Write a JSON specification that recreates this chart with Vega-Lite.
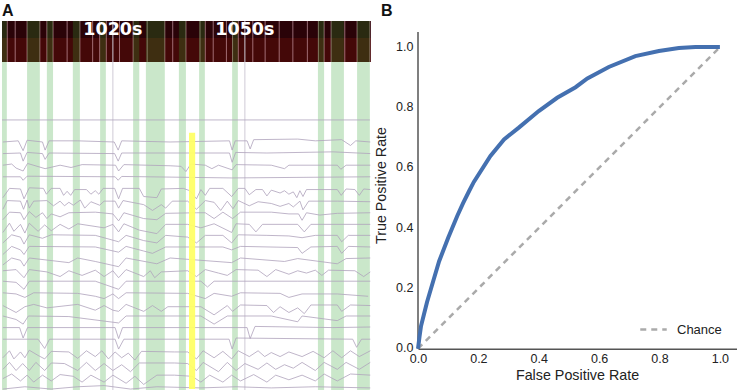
{"$schema":"https://vega.github.io/schema/vega-lite/v6.json","padding":{"left":2,"top":2,"right":0,"bottom":0},"autosize":{"type":"pad"},"spacing":3,"background":"white","config":{"view":{"stroke":null},"font":"Liberation Sans"},
"hconcat":[
{"width":369,"height":369,"title":{"text":"A","anchor":"start","frame":"group","fontSize":16,"font":"Liberation Sans","fontWeight":"bold","color":"#111","offset":2},
"layer":[
{"data":{"values":[{"t0":994.8,"t1":1078.66,"y0":-9.43,"y1":-7.97,"k":"upper"},{"t0":994.8,"t1":1078.66,"y0":-7.97,"y1":-5.9,"k":"lower"}]},"mark":{"type":"rect"},"encoding":{"x":{"field":"t0","type":"quantitative","scale":{"domain":[994.8,1078.66],"nice":false,"zero":false},"axis":null},"x2":{"field":"t1"},"y":{"field":"y0","type":"quantitative","scale":{"domain":[-9.43,22.38],"nice":false,"zero":false,"reverse":true},"axis":null},"y2":{"field":"y1"},"color":{"field":"k","type":"nominal","scale":{"domain":["upper","lower"],"range":["#2a0308","#440808"]},"legend":null}}},
{"data":{"values":[{"t":996},{"t":997.8},{"t":1000.5},{"t":1003.4},{"t":1005},{"t":1006.4},{"t":1009.6},{"t":1012.5},{"t":1015.4},{"t":1017},{"t":1018.5},{"t":1021.5},{"t":1024.6},{"t":1027.8},{"t":1031.8},{"t":1033.6},{"t":1036.6},{"t":1039.8},{"t":1041},{"t":1042.8},{"t":1045.8},{"t":1047.2},{"t":1048.5},{"t":1051.8},{"t":1054.6},{"t":1057.8},{"t":1060.9},{"t":1064.2},{"t":1066.7},{"t":1068},{"t":1069.6},{"t":1072.7},{"t":1075.5},{"t":1078.4}]},"transform":[{"calculate":"-9.43","as":"a"},{"calculate":"-5.9","as":"b"}],"mark":{"type":"rule","color":"#e0b0bc","strokeWidth":1,"opacity":0.6},"encoding":{"x":{"field":"t","type":"quantitative","scale":{"domain":[994.8,1078.66],"nice":false,"zero":false}},"y":{"field":"a","type":"quantitative","scale":{"domain":[-9.43,22.38],"nice":false,"zero":false,"reverse":true}},"y2":{"field":"b"}}},
{"data":{"values":[{"t0":994.8,"t1":995.9},{"t0":1000.5,"t1":1003.4},{"t0":1005,"t1":1006.4},{"t0":1010.9,"t1":1012.5},{"t0":1017.1,"t1":1018.4},{"t0":1024.6,"t1":1026},{"t0":1027.5,"t1":1031.8},{"t0":1035,"t1":1036.6},{"t0":1039.6,"t1":1040.9},{"t0":1047.1,"t1":1048.4},{"t0":1066.6,"t1":1068},{"t0":1069.6,"t1":1072.5},{"t0":1075.5,"t1":1078.4}]},"transform":[{"calculate":"-9.43","as":"a"},{"calculate":"22.38","as":"b"}],"mark":{"type":"rect","color":"#2ca02c","opacity":0.25},"encoding":{"x":{"field":"t0","type":"quantitative","scale":{"domain":[994.8,1078.66],"nice":false,"zero":false}},"x2":{"field":"t1"},"y":{"field":"a","type":"quantitative","scale":{"domain":[-9.43,22.38],"nice":false,"zero":false,"reverse":true}},"y2":{"field":"b"}}},
{"data":{"values":[{"t":1020},{"t":1050}]},"transform":[{"calculate":"-9.43","as":"a"},{"calculate":"22.38","as":"b"}],"mark":{"type":"rule","color":"#cfcad6","strokeWidth":1},"encoding":{"x":{"field":"t","type":"quantitative","scale":{"domain":[994.8,1078.66],"nice":false,"zero":false}},"y":{"field":"a","type":"quantitative","scale":{"domain":[-9.43,22.38],"nice":false,"zero":false,"reverse":true}},"y2":{"field":"b"}}},
{"data":{"values":[{"t":994.8,"c":0,"v":-0.9},{"t":1078.4,"c":0,"v":-0.9},
{"t":995,"c":1,"v":1},{"t":998.5,"c":1,"v":0.9},{"t":999.6,"c":1,"v":1.75},{"t":1000.5,"c":1,"v":0.85},{"t":1004,"c":1,"v":1},{"t":1004.6,"c":1,"v":1.7},{"t":1005.5,"c":1,"v":0.9},{"t":1012,"c":1,"v":0.9},{"t":1020.3,"c":1,"v":1},{"t":1021.2,"c":1,"v":1.7},{"t":1022,"c":1,"v":0.9},{"t":1033,"c":1,"v":1},{"t":1046.5,"c":1,"v":0.9},{"t":1047.1,"c":1,"v":1.7},{"t":1047.8,"c":1,"v":0.9},{"t":1050.5,"c":1,"v":0.9},{"t":1051.2,"c":1,"v":1.6},{"t":1052,"c":1,"v":0.8},{"t":1062,"c":1,"v":0.75},{"t":1066,"c":1,"v":0.9},{"t":1072,"c":1,"v":0.8},{"t":1074,"c":1,"v":1.3},{"t":1075.2,"c":1,"v":0.9},{"t":1078.5,"c":1,"v":1},
{"t":995,"c":2,"v":2},{"t":999,"c":2,"v":1.95},{"t":999.6,"c":2,"v":2.65},{"t":1000.5,"c":2,"v":1.9},{"t":1004,"c":2,"v":2},{"t":1004.6,"c":2,"v":2.5},{"t":1005.5,"c":2,"v":1.95},{"t":1020.4,"c":2,"v":2},{"t":1021.2,"c":2,"v":2.65},{"t":1022,"c":2,"v":1.95},{"t":1046.5,"c":2,"v":1.95},{"t":1047.1,"c":2,"v":2.75},{"t":1047.9,"c":2,"v":1.9},{"t":1055,"c":2,"v":1.95},{"t":1070,"c":2,"v":1.85},{"t":1078.5,"c":2,"v":2},
{"t":995,"c":3,"v":3},{"t":997,"c":3,"v":2.9},{"t":998,"c":3,"v":3.25},{"t":999.6,"c":3,"v":3.5},{"t":1000.6,"c":3,"v":2.85},{"t":1004.6,"c":3,"v":3.3},{"t":1008,"c":3,"v":3},{"t":1010.5,"c":3,"v":3.2},{"t":1013,"c":3,"v":2.95},{"t":1020.6,"c":3,"v":3},{"t":1021.3,"c":3,"v":3.5},{"t":1022.5,"c":3,"v":2.95},{"t":1033,"c":3,"v":3.05},{"t":1035.5,"c":3,"v":3.1},{"t":1036.6,"c":3,"v":3.55},{"t":1037.7,"c":3,"v":2.9},{"t":1041,"c":3,"v":3},{"t":1042.5,"c":3,"v":3.3},{"t":1044,"c":3,"v":3},{"t":1047.1,"c":3,"v":3.4},{"t":1048,"c":3,"v":2.95},{"t":1056,"c":3,"v":3},{"t":1059,"c":3,"v":3.3},{"t":1060,"c":3,"v":3},{"t":1071,"c":3,"v":3},{"t":1071.8,"c":3,"v":3.35},{"t":1073,"c":3,"v":3},{"t":1078.5,"c":3,"v":3},
{"t":995,"c":4,"v":4},{"t":999,"c":4,"v":4},{"t":999.6,"c":4,"v":4.3},{"t":1000.5,"c":4,"v":3.95},{"t":1020.5,"c":4,"v":4},{"t":1021.2,"c":4,"v":4.3},{"t":1022,"c":4,"v":3.97},{"t":1047,"c":4,"v":4.1},{"t":1078.5,"c":4,"v":4},
{"t":995,"c":5,"v":5.8},{"t":996.5,"c":5,"v":5},{"t":999,"c":5,"v":5.05},{"t":999.8,"c":5,"v":5.9},{"t":1001,"c":5,"v":4.95},{"t":1004.2,"c":5,"v":5},{"t":1004.9,"c":5,"v":5.5},{"t":1006,"c":5,"v":5},{"t":1008,"c":5,"v":5},{"t":1008.8,"c":5,"v":5.6},{"t":1009.6,"c":5,"v":5.25},{"t":1010.4,"c":5,"v":5.6},{"t":1011.3,"c":5,"v":5.1},{"t":1014,"c":5,"v":5.1},{"t":1015,"c":5,"v":5.5},{"t":1016,"c":5,"v":5.2},{"t":1016.8,"c":5,"v":5.5},{"t":1017.8,"c":5,"v":5},{"t":1020.4,"c":5,"v":5},{"t":1021.3,"c":5,"v":5.9},{"t":1022.2,"c":5,"v":5},{"t":1026,"c":5,"v":5},{"t":1027,"c":5,"v":5.7},{"t":1030,"c":5,"v":5.8},{"t":1031,"c":5,"v":5.05},{"t":1036,"c":5,"v":5},{"t":1037.5,"c":5,"v":5.2},{"t":1039,"c":5,"v":5.9},{"t":1040,"c":5,"v":5.1},{"t":1041,"c":5,"v":5.6},{"t":1042,"c":5,"v":5},{"t":1045,"c":5,"v":5},{"t":1047,"c":5,"v":5.7},{"t":1048.5,"c":5,"v":5},{"t":1050,"c":5,"v":5},{"t":1051,"c":5,"v":5.55},{"t":1052.5,"c":5,"v":5.1},{"t":1054,"c":5,"v":5.1},{"t":1055,"c":5,"v":5.65},{"t":1056,"c":5,"v":5.15},{"t":1058,"c":5,"v":5.4},{"t":1059,"c":5,"v":5.2},{"t":1060,"c":5,"v":5.5},{"t":1061,"c":5,"v":5.3},{"t":1061.8,"c":5,"v":5.8},{"t":1062.5,"c":5,"v":5.2},{"t":1063.2,"c":5,"v":5.7},{"t":1064,"c":5,"v":5.1},{"t":1071,"c":5,"v":5.1},{"t":1071.9,"c":5,"v":5.6},{"t":1073,"c":5,"v":5.05},{"t":1075,"c":5,"v":5.1},{"t":1076,"c":5,"v":5.6},{"t":1077,"c":5,"v":5.05},{"t":1078.5,"c":5,"v":5.1},
{"t":995,"c":6,"v":6.8},{"t":996,"c":6,"v":6.05},{"t":999,"c":6,"v":6.1},{"t":999.7,"c":6,"v":6.8},{"t":1000.5,"c":6,"v":6},{"t":1001,"c":6,"v":6.7},{"t":1002,"c":6,"v":6.1},{"t":1005,"c":6,"v":6.05},{"t":1006.5,"c":6,"v":6.5},{"t":1008,"c":6,"v":6.1},{"t":1009,"c":6,"v":6.5},{"t":1010,"c":6,"v":6.2},{"t":1011,"c":6,"v":6.45},{"t":1012.6,"c":6,"v":6},{"t":1013.6,"c":6,"v":6.7},{"t":1015,"c":6,"v":6.15},{"t":1017,"c":6,"v":6.45},{"t":1018,"c":6,"v":6.1},{"t":1020.5,"c":6,"v":6.1},{"t":1021.3,"c":6,"v":6.7},{"t":1022.3,"c":6,"v":6.05},{"t":1027,"c":6,"v":6.4},{"t":1029,"c":6,"v":6.9},{"t":1031,"c":6,"v":6.4},{"t":1032,"c":6,"v":6.7},{"t":1033.5,"c":6,"v":6.1},{"t":1037,"c":6,"v":6.1},{"t":1039,"c":6,"v":6.8},{"t":1041,"c":6,"v":6.05},{"t":1043,"c":6,"v":6.2},{"t":1044.5,"c":6,"v":6.9},{"t":1046,"c":6,"v":6.1},{"t":1047.3,"c":6,"v":6.75},{"t":1048.5,"c":6,"v":6.05},{"t":1051,"c":6,"v":6.5},{"t":1053,"c":6,"v":6.15},{"t":1056,"c":6,"v":6.3},{"t":1058,"c":6,"v":6.55},{"t":1060,"c":6,"v":6.3},{"t":1061,"c":6,"v":6.6},{"t":1062.5,"c":6,"v":6.1},{"t":1063.2,"c":6,"v":6.85},{"t":1064.5,"c":6,"v":6.1},{"t":1071,"c":6,"v":6.1},{"t":1078.5,"c":6,"v":6.15},
{"t":995,"c":7,"v":7.7},{"t":996.5,"c":7,"v":7.05},{"t":999,"c":7,"v":7.1},{"t":999.8,"c":7,"v":7.7},{"t":1001,"c":7,"v":7},{"t":1002.5,"c":7,"v":7.5},{"t":1004,"c":7,"v":7.1},{"t":1005,"c":7,"v":7.6},{"t":1006,"c":7,"v":7.2},{"t":1008,"c":7,"v":7.45},{"t":1010,"c":7,"v":7.1},{"t":1016,"c":7,"v":7.05},{"t":1020,"c":7,"v":7.2},{"t":1021.3,"c":7,"v":7.8},{"t":1022.5,"c":7,"v":7.1},{"t":1027,"c":7,"v":7.6},{"t":1030,"c":7,"v":7.7},{"t":1032,"c":7,"v":7.15},{"t":1039,"c":7,"v":7.1},{"t":1041,"c":7,"v":7.1},{"t":1043,"c":7,"v":7.6},{"t":1045,"c":7,"v":7.05},{"t":1047.2,"c":7,"v":7.6},{"t":1049,"c":7,"v":7.05},{"t":1056,"c":7,"v":7.05},{"t":1060,"c":7,"v":7.2},{"t":1062.2,"c":7,"v":7.2},{"t":1063,"c":7,"v":7.75},{"t":1064,"c":7,"v":7.1},{"t":1067,"c":7,"v":7.3},{"t":1071,"c":7,"v":7.15},{"t":1078.5,"c":7,"v":7.1},
{"t":995,"c":8,"v":8.8},{"t":996.5,"c":8,"v":8},{"t":997.5,"c":8,"v":8.7},{"t":999,"c":8,"v":8.1},{"t":1000,"c":8,"v":8.85},{"t":1001,"c":8,"v":8},{"t":1003,"c":8,"v":8.7},{"t":1004.5,"c":8,"v":8.15},{"t":1006,"c":8,"v":8.65},{"t":1008,"c":8,"v":8.1},{"t":1010,"c":8,"v":8.5},{"t":1012,"c":8,"v":8.05},{"t":1018,"c":8,"v":8.4},{"t":1020,"c":8,"v":8.1},{"t":1021.3,"c":8,"v":8.75},{"t":1022.5,"c":8,"v":8.05},{"t":1026,"c":8,"v":8.6},{"t":1030,"c":8,"v":8.9},{"t":1032,"c":8,"v":8.1},{"t":1037,"c":8,"v":8.1},{"t":1040,"c":8,"v":8.4},{"t":1043,"c":8,"v":8.05},{"t":1047,"c":8,"v":8.8},{"t":1048,"c":8,"v":8.05},{"t":1051,"c":8,"v":8.1},{"t":1052.5,"c":8,"v":8.75},{"t":1054,"c":8,"v":8.1},{"t":1062,"c":8,"v":8.1},{"t":1063.5,"c":8,"v":8.75},{"t":1065,"c":8,"v":8.1},{"t":1078.5,"c":8,"v":8.1},
{"t":995,"c":9,"v":9.7},{"t":997,"c":9,"v":9},{"t":999,"c":9,"v":9.2},{"t":999.8,"c":9,"v":9.8},{"t":1001,"c":9,"v":9},{"t":1004,"c":9,"v":9.3},{"t":1006,"c":9,"v":9},{"t":1016,"c":9,"v":9.05},{"t":1021.3,"c":9,"v":9.6},{"t":1023,"c":9,"v":9.05},{"t":1027,"c":9,"v":9.5},{"t":1030,"c":9,"v":9.7},{"t":1032,"c":9,"v":9.05},{"t":1037,"c":9,"v":9.2},{"t":1039,"c":9,"v":9.7},{"t":1041,"c":9,"v":9.05},{"t":1045,"c":9,"v":9.05},{"t":1047,"c":9,"v":9.7},{"t":1048.5,"c":9,"v":9},{"t":1055,"c":9,"v":9.05},{"t":1060,"c":9,"v":9.1},{"t":1063,"c":9,"v":9.25},{"t":1066,"c":9,"v":9.05},{"t":1071,"c":9,"v":9.05},{"t":1072,"c":9,"v":9.6},{"t":1073.5,"c":9,"v":9.05},{"t":1078.5,"c":9,"v":9.05},
{"t":995,"c":10,"v":10.7},{"t":997,"c":10,"v":10},{"t":999,"c":10,"v":10.3},{"t":999.8,"c":10,"v":10.7},{"t":1001,"c":10,"v":10},{"t":1016,"c":10,"v":10.05},{"t":1021.3,"c":10,"v":10.5},{"t":1023,"c":10,"v":10},{"t":1027,"c":10,"v":10.4},{"t":1029,"c":10,"v":10.6},{"t":1032,"c":10,"v":10.05},{"t":1045,"c":10,"v":10.05},{"t":1047,"c":10,"v":10.3},{"t":1049,"c":10,"v":10},{"t":1062,"c":10,"v":10.1},{"t":1063,"c":10,"v":10.6},{"t":1065,"c":10,"v":10.05},{"t":1071,"c":10,"v":10},{"t":1072,"c":10,"v":10.6},{"t":1073.5,"c":10,"v":10},{"t":1078.5,"c":10,"v":10.05},
{"t":995,"c":11,"v":11.6},{"t":997,"c":11,"v":11},{"t":999,"c":11,"v":11.2},{"t":999.8,"c":11,"v":11.7},{"t":1001,"c":11,"v":11},{"t":1010,"c":11,"v":11.4},{"t":1012,"c":11,"v":11},{"t":1016,"c":11,"v":11.3},{"t":1021.3,"c":11,"v":11.75},{"t":1023,"c":11,"v":11},{"t":1030,"c":11,"v":11.5},{"t":1033,"c":11,"v":11},{"t":1047,"c":11,"v":11.4},{"t":1049,"c":11,"v":11},{"t":1059,"c":11,"v":11.3},{"t":1062,"c":11,"v":11.05},{"t":1071,"c":11,"v":11.5},{"t":1073,"c":11,"v":11.05},{"t":1078.5,"c":11,"v":11},
{"t":995,"c":12,"v":12.1},{"t":998,"c":12,"v":12},{"t":999.8,"c":12,"v":12.7},{"t":1001,"c":12,"v":12},{"t":1005,"c":12,"v":12.2},{"t":1008,"c":12,"v":12.6},{"t":1010,"c":12,"v":12.1},{"t":1013,"c":12,"v":12.5},{"t":1016,"c":12,"v":12.05},{"t":1018,"c":12,"v":12.6},{"t":1020,"c":12,"v":12.1},{"t":1021.3,"c":12,"v":12.7},{"t":1023,"c":12,"v":12},{"t":1027,"c":12,"v":12.6},{"t":1028.5,"c":12,"v":12.1},{"t":1029.5,"c":12,"v":12.7},{"t":1031,"c":12,"v":12.2},{"t":1037,"c":12,"v":12.1},{"t":1039,"c":12,"v":12.6},{"t":1041,"c":12,"v":12},{"t":1044,"c":12,"v":12.3},{"t":1046,"c":12,"v":12.5},{"t":1048,"c":12,"v":12},{"t":1053,"c":12,"v":12.05},{"t":1055,"c":12,"v":12.6},{"t":1057,"c":12,"v":12},{"t":1060,"c":12,"v":12.4},{"t":1062,"c":12,"v":12.1},{"t":1064,"c":12,"v":12.3},{"t":1066,"c":12,"v":12.05},{"t":1067.5,"c":12,"v":12.5},{"t":1069,"c":12,"v":12.05},{"t":1075,"c":12,"v":12.1},{"t":1077,"c":12,"v":12.6},{"t":1078.5,"c":12,"v":12.2},
{"t":995,"c":13,"v":13},{"t":998,"c":13,"v":13.1},{"t":999.8,"c":13,"v":13.7},{"t":1001,"c":13,"v":13},{"t":1016,"c":13,"v":13},{"t":1021.3,"c":13,"v":13.7},{"t":1023,"c":13,"v":13},{"t":1033,"c":13,"v":13},{"t":1040,"c":13,"v":13},{"t":1041.5,"c":13,"v":13.5},{"t":1043,"c":13,"v":13},{"t":1055,"c":13,"v":13},{"t":1062,"c":13,"v":13},{"t":1078.5,"c":13,"v":13},
{"t":995,"c":14,"v":14},{"t":998,"c":14,"v":14.1},{"t":1000,"c":14,"v":14.4},{"t":1002,"c":14,"v":14},{"t":1012,"c":14,"v":14.05},{"t":1016,"c":14,"v":14.3},{"t":1018,"c":14,"v":14.5},{"t":1020,"c":14,"v":14.1},{"t":1021.3,"c":14,"v":14.5},{"t":1023,"c":14,"v":14},{"t":1037,"c":14,"v":14.05},{"t":1041,"c":14,"v":14.5},{"t":1043,"c":14,"v":14.05},{"t":1047,"c":14,"v":14.3},{"t":1049,"c":14,"v":14},{"t":1058,"c":14,"v":14.05},{"t":1060,"c":14,"v":14.4},{"t":1063,"c":14,"v":14.1},{"t":1071,"c":14,"v":14.1},{"t":1078,"c":14,"v":14.3},
{"t":995,"c":15,"v":15.1},{"t":998,"c":15,"v":15.7},{"t":1000,"c":15,"v":15.2},{"t":1002,"c":15,"v":15},{"t":1005,"c":15,"v":15.3},{"t":1012,"c":15,"v":15},{"t":1016,"c":15,"v":15.5},{"t":1018,"c":15,"v":15.1},{"t":1020,"c":15,"v":15.5},{"t":1021.3,"c":15,"v":15.6},{"t":1023,"c":15,"v":15},{"t":1027,"c":15,"v":15.6},{"t":1029,"c":15,"v":15.1},{"t":1031,"c":15,"v":15.6},{"t":1032.5,"c":15,"v":15.2},{"t":1040,"c":15,"v":15.2},{"t":1043,"c":15,"v":15.9},{"t":1046,"c":15,"v":15.1},{"t":1047.2,"c":15,"v":15.6},{"t":1049,"c":15,"v":15.05},{"t":1055,"c":15,"v":15.1},{"t":1056.5,"c":15,"v":15.7},{"t":1058,"c":15,"v":15.2},{"t":1060,"c":15,"v":15.7},{"t":1062,"c":15,"v":15.3},{"t":1063.5,"c":15,"v":15.8},{"t":1065,"c":15,"v":15.05},{"t":1071,"c":15,"v":15.05},{"t":1072,"c":15,"v":15.6},{"t":1074,"c":15,"v":15.05},{"t":1078.5,"c":15,"v":15.1},
{"t":995,"c":16,"v":16},{"t":998,"c":16,"v":16.3},{"t":999.6,"c":16,"v":16.7},{"t":1000.8,"c":16,"v":16},{"t":1010,"c":16,"v":16.05},{"t":1021.3,"c":16,"v":16.6},{"t":1023,"c":16,"v":16},{"t":1040,"c":16,"v":16},{"t":1043,"c":16,"v":16.7},{"t":1046,"c":16,"v":16},{"t":1056,"c":16,"v":16},{"t":1062,"c":16,"v":16.5},{"t":1063,"c":16,"v":16},{"t":1071,"c":16,"v":16.4},{"t":1073,"c":16,"v":16},{"t":1078.5,"c":16,"v":16},
{"t":995,"c":17,"v":17},{"t":998.8,"c":17,"v":17},{"t":999.6,"c":17,"v":17.9},{"t":1000.6,"c":17,"v":17},{"t":1020.5,"c":17,"v":17},{"t":1021.3,"c":17,"v":17.95},{"t":1022.2,"c":17,"v":17},{"t":1050.5,"c":17,"v":17},{"t":1051.2,"c":17,"v":17.95},{"t":1052.3,"c":17,"v":16.9},{"t":1070,"c":17,"v":17},{"t":1078.5,"c":17,"v":16.95},
{"t":995,"c":18,"v":18},{"t":1003,"c":18,"v":18},{"t":1004.5,"c":18,"v":18.8},{"t":1005.6,"c":18,"v":18},{"t":1020.5,"c":18,"v":18},{"t":1021.3,"c":18,"v":18.85},{"t":1022.5,"c":18,"v":18},{"t":1046.4,"c":18,"v":18},{"t":1047.1,"c":18,"v":18.85},{"t":1048,"c":18,"v":17.9},{"t":1074.5,"c":18,"v":18},{"t":1075.4,"c":18,"v":18.7},{"t":1076.5,"c":18,"v":18},{"t":1078.5,"c":18,"v":18},
{"t":995,"c":19,"v":19.6},{"t":996.5,"c":19,"v":19},{"t":997.5,"c":19,"v":19.7},{"t":999,"c":19,"v":19.1},{"t":1000,"c":19,"v":19.6},{"t":1001,"c":19,"v":18.95},{"t":1003,"c":19,"v":19.4},{"t":1004.5,"c":19,"v":19.7},{"t":1006,"c":19,"v":19.05},{"t":1010,"c":19,"v":19.1},{"t":1012,"c":19,"v":19.65},{"t":1014,"c":19,"v":19},{"t":1016,"c":19,"v":19.5},{"t":1017.5,"c":19,"v":19},{"t":1019,"c":19,"v":19.7},{"t":1020.5,"c":19,"v":19.1},{"t":1022,"c":19,"v":19.6},{"t":1023.5,"c":19,"v":19.2},{"t":1025,"c":19,"v":19.8},{"t":1026.5,"c":19,"v":19.05},{"t":1034,"c":19,"v":19.1},{"t":1037,"c":19,"v":19.1},{"t":1039,"c":19,"v":19.7},{"t":1040.5,"c":19,"v":19},{"t":1043,"c":19,"v":19.6},{"t":1045,"c":19,"v":19.05},{"t":1047,"c":19,"v":19.7},{"t":1048.5,"c":19,"v":19},{"t":1051,"c":19,"v":19.5},{"t":1053,"c":19,"v":19},{"t":1054.5,"c":19,"v":19.5},{"t":1056,"c":19,"v":19.15},{"t":1058,"c":19,"v":19.5},{"t":1060,"c":19,"v":19.1},{"t":1063,"c":19,"v":19.5},{"t":1065.5,"c":19,"v":19.05},{"t":1068,"c":19,"v":19.6},{"t":1070,"c":19,"v":19},{"t":1072,"c":19,"v":19.6},{"t":1074,"c":19,"v":19},{"t":1076,"c":19,"v":19.5},{"t":1078.5,"c":19,"v":19},
{"t":995,"c":20,"v":20.6},{"t":996.5,"c":20,"v":20},{"t":998,"c":20,"v":20.7},{"t":999.5,"c":20,"v":20.1},{"t":1001,"c":20,"v":20.7},{"t":1002.5,"c":20,"v":20},{"t":1004.5,"c":20,"v":20.7},{"t":1006,"c":20,"v":20.05},{"t":1009,"c":20,"v":20.1},{"t":1012,"c":20,"v":20.7},{"t":1014,"c":20,"v":20},{"t":1016,"c":20,"v":20.7},{"t":1018,"c":20,"v":20.1},{"t":1020,"c":20,"v":20.7},{"t":1022,"c":20,"v":20.2},{"t":1024,"c":20,"v":20.8},{"t":1026,"c":20,"v":20.05},{"t":1034,"c":20,"v":20.05},{"t":1037,"c":20,"v":20.1},{"t":1039,"c":20,"v":20.7},{"t":1040.5,"c":20,"v":20},{"t":1044,"c":20,"v":20.8},{"t":1046,"c":20,"v":20},{"t":1048,"c":20,"v":20.7},{"t":1050,"c":20,"v":20.1},{"t":1053,"c":20,"v":20.6},{"t":1055,"c":20,"v":20.05},{"t":1057,"c":20,"v":20.6},{"t":1059,"c":20,"v":20.2},{"t":1061,"c":20,"v":20.5},{"t":1063,"c":20,"v":20},{"t":1066,"c":20,"v":20.7},{"t":1068,"c":20,"v":20},{"t":1071,"c":20,"v":20.6},{"t":1073,"c":20,"v":20},{"t":1076,"c":20,"v":20.6},{"t":1078.5,"c":20,"v":20},
{"t":995,"c":21,"v":21.4},{"t":997,"c":21,"v":21},{"t":999,"c":21,"v":21.6},{"t":1000.5,"c":21,"v":21.1},{"t":1002,"c":21,"v":21.7},{"t":1004,"c":21,"v":21.1},{"t":1006,"c":21,"v":21.6},{"t":1008,"c":21,"v":21.05},{"t":1011,"c":21,"v":21.2},{"t":1013,"c":21,"v":21.7},{"t":1015,"c":21,"v":21.1},{"t":1018,"c":21,"v":21.7},{"t":1020,"c":21,"v":21.1},{"t":1023,"c":21,"v":21.8},{"t":1025,"c":21,"v":21.2},{"t":1027,"c":21,"v":21.9},{"t":1030,"c":21,"v":21.1},{"t":1034,"c":21,"v":21.1},{"t":1038,"c":21,"v":21.2},{"t":1040,"c":21,"v":21.7},{"t":1042,"c":21,"v":21.1},{"t":1045,"c":21,"v":21.7},{"t":1047,"c":21,"v":21.1},{"t":1049,"c":21,"v":21.6},{"t":1052,"c":21,"v":21.05},{"t":1055,"c":21,"v":21.7},{"t":1057,"c":21,"v":21.1},{"t":1060,"c":21,"v":21.5},{"t":1063,"c":21,"v":21.1},{"t":1066,"c":21,"v":21.6},{"t":1068,"c":21,"v":21},{"t":1071,"c":21,"v":21.6},{"t":1074,"c":21,"v":21},{"t":1078.5,"c":21,"v":21.1},
{"t":995,"c":22,"v":22.3},{"t":1000,"c":22,"v":22.1},{"t":1006,"c":22,"v":22.3},{"t":1012,"c":22,"v":22.1},{"t":1018,"c":22,"v":22},{"t":1024,"c":22,"v":22.3},{"t":1030,"c":22,"v":22.1},{"t":1040,"c":22,"v":22.2},{"t":1048,"c":22,"v":22.1},{"t":1056,"c":22,"v":22.2},{"t":1066,"c":22,"v":22.1},{"t":1078.5,"c":22,"v":22.2}]},
"mark":{"type":"line","stroke":"#b0a4bc","strokeWidth":0.9,"clip":true,"opacity":0.9},"encoding":{"x":{"field":"t","type":"quantitative","scale":{"domain":[994.8,1078.66],"nice":false,"zero":false}},"y":{"field":"v","type":"quantitative","scale":{"domain":[-9.43,22.38],"nice":false,"zero":false,"reverse":true}},"detail":{"field":"c","type":"nominal"},"order":{"field":"t","type":"quantitative"}}},
{"data":{"values":[{"t0":1037.3,"t1":1038.7,"a":0.2,"b":22.3}]},"mark":{"type":"rect","color":"#ffff66","opacity":0.95},"encoding":{"x":{"field":"t0","type":"quantitative","scale":{"domain":[994.8,1078.66],"nice":false,"zero":false}},"x2":{"field":"t1"},"y":{"field":"a","type":"quantitative","scale":{"domain":[-9.43,22.38],"nice":false,"zero":false,"reverse":true}},"y2":{"field":"b"}}},
{"data":{"values":[{"t":1020,"a":-8.65,"s":"1020s"},{"t":1050,"a":-8.65,"s":"1050s"}]},"mark":{"type":"text","font":"DejaVu Sans","fontWeight":"bold","fontSize":17.5,"color":"white","baseline":"middle"},"encoding":{"x":{"field":"t","type":"quantitative","scale":{"domain":[994.8,1078.66],"nice":false,"zero":false}},"y":{"field":"a","type":"quantitative","scale":{"domain":[-9.43,22.38],"nice":false,"zero":false,"reverse":true}},"text":{"field":"s"}}}
],"resolve":{"scale":{"color":"independent"}}},
{"width":320,"height":327.7,"title":{"text":"B","anchor":"start","frame":"group","fontSize":16,"font":"Liberation Sans","fontWeight":"bold","color":"#111","offset":2,"dx":-37},
"layer":[
{"data":{"values":[{"x":0,"y":0,"s":"Chance"},{"x":1,"y":1,"s":"Chance"}]},"mark":{"type":"line","color":"#aaaaaa","strokeWidth":2.5},"encoding":{"x":{"field":"x","type":"quantitative","scale":{"domain":[0,1.06],"nice":false},"axis":{"values":[0,0.2,0.4,0.6,0.8,1],"format":".1f","title":"False Positive Rate","grid":false,"ticks":false,"labelFlush":false,"domainColor":"#555","domainWidth":1.5,"labelFontSize":12.5,"labelColor":"#222","labelPadding":4,"titleFontSize":14.3,"titleFontWeight":"normal","titleColor":"#222","titlePadding":3,"titleX":159,"labelFont":"Liberation Sans","titleFont":"Liberation Sans"}},"y":{"field":"y","type":"quantitative","scale":{"domain":[0,1.0865],"nice":false},"axis":{"values":[0,0.2,0.4,0.6,0.8,1],"format":".1f","title":"True Positive Rate","grid":false,"ticks":false,"domain":false,"labelFlush":false,"labelOffset":-1,"labelFontSize":12.5,"labelColor":"#222","labelPadding":5,"titleFontSize":14.3,"titleFontWeight":"normal","titleColor":"#222","titlePadding":7,"titleY":164,"labelFont":"Liberation Sans","titleFont":"Liberation Sans"}},"strokeDash":{"field":"s","type":"nominal","scale":{"domain":["Chance"],"range":[[6,5]]},"legend":{"title":null,"orient":"none","legendX":637,"legendY":294,"symbolType":"stroke","symbolSize":700,"symbolStrokeWidth":2.5,"labelFontSize":13,"labelColor":"#222","labelFont":"Liberation Sans","labelOffset":9}}}},
{"data":{"values":[{"x":0,"y0":0,"y1":1.05}]},"mark":{"type":"rule","color":"#555555","strokeWidth":1.5},"encoding":{"x":{"field":"x","type":"quantitative"},"y":{"field":"y0","type":"quantitative"},"y2":{"field":"y1"}}},
{"data":{"values":[{"x":0,"y":0},{"x":0.005,"y":0.04},{"x":0.01,"y":0.075},{"x":0.02,"y":0.115},{"x":0.03,"y":0.155},{"x":0.05,"y":0.223},{"x":0.07,"y":0.29},{"x":0.1,"y":0.368},{"x":0.13,"y":0.44},{"x":0.149,"y":0.482},{"x":0.169,"y":0.522},{"x":0.185,"y":0.553},{"x":0.24,"y":0.639},{"x":0.285,"y":0.694},{"x":0.334,"y":0.733},{"x":0.4,"y":0.788},{"x":0.461,"y":0.832},{"x":0.522,"y":0.867},{"x":0.561,"y":0.896},{"x":0.632,"y":0.934},{"x":0.72,"y":0.97},{"x":0.798,"y":0.987},{"x":0.864,"y":0.997},{"x":0.919,"y":1},{"x":1,"y":1}]},"mark":{"type":"line","color":"#4470b0","strokeWidth":4},"encoding":{"x":{"field":"x","type":"quantitative"},"y":{"field":"y","type":"quantitative"}}}
]}
]}
